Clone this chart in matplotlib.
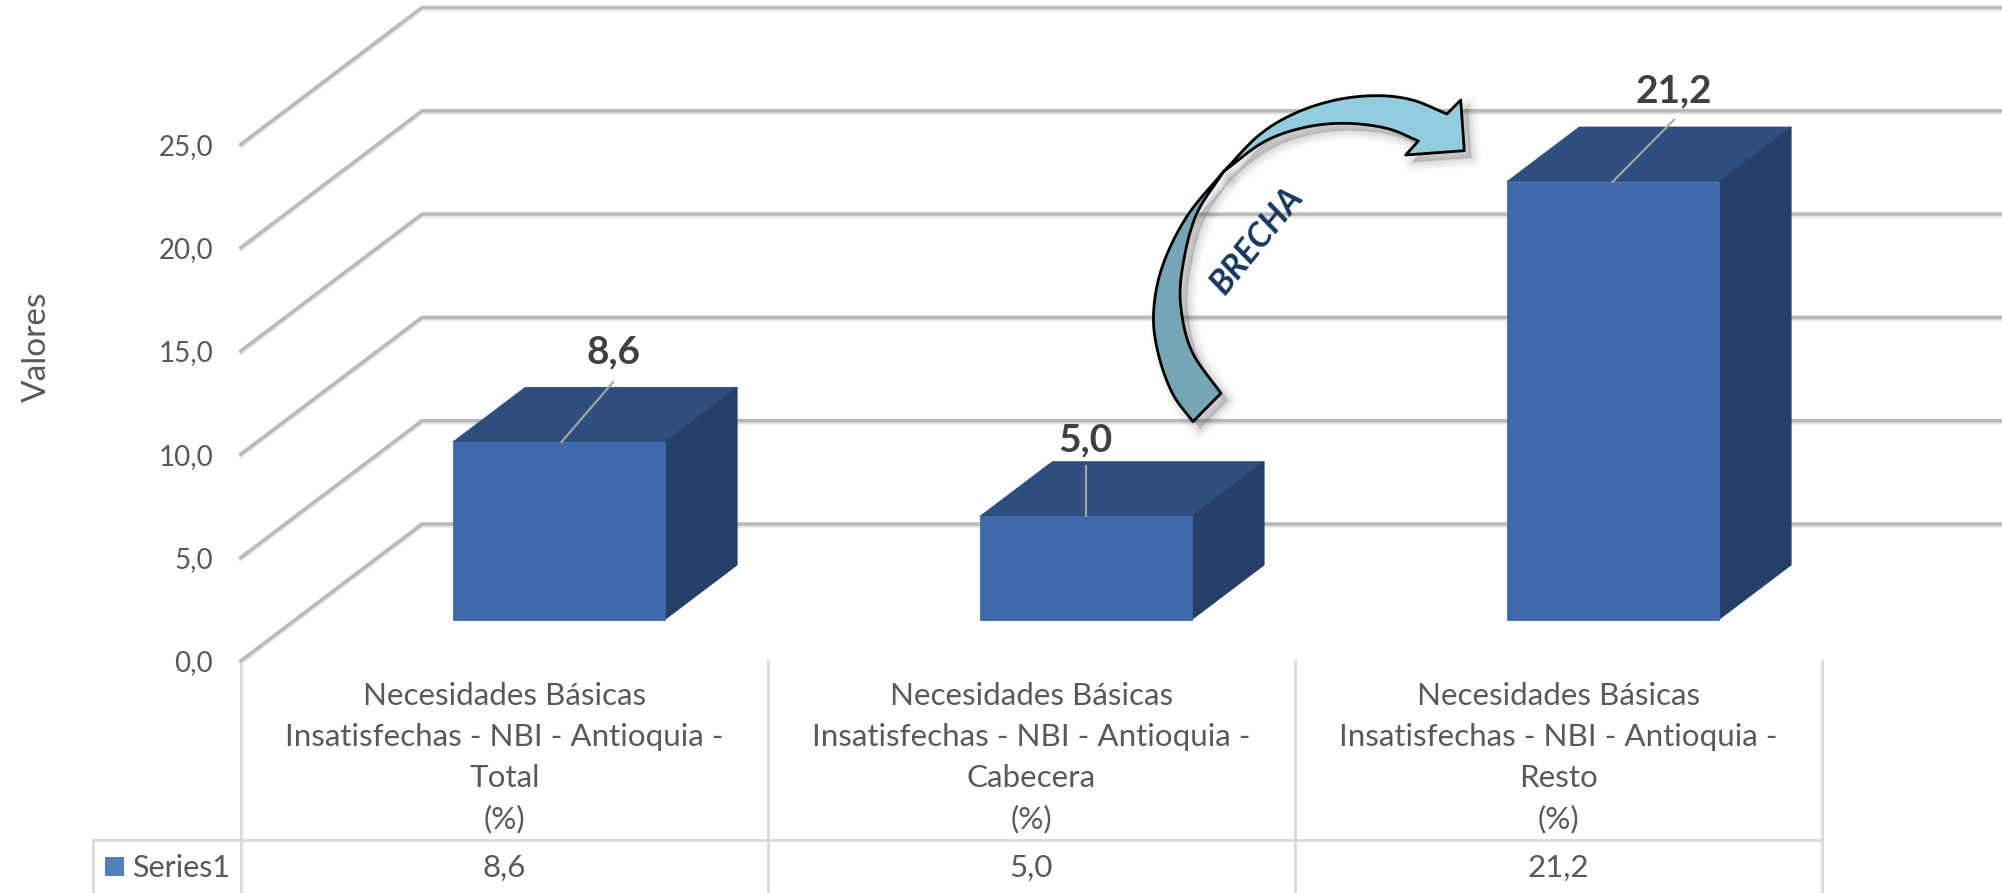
import numpy as np
import matplotlib
matplotlib.use("Agg")
import matplotlib.pyplot as plt
from matplotlib.patches import Polygon, Rectangle
from matplotlib.transforms import Affine2D

categories = ["Necesidades Básicas\nInsatisfechas - NBI - Antioquia -\nTotal\n(%)",
              "Necesidades Básicas\nInsatisfechas - NBI - Antioquia -\nCabecera\n(%)",
              "Necesidades Básicas\nInsatisfechas - NBI - Antioquia -\nResto\n(%)"]
values = [8.6, 5.0, 21.2]
value_labels = ["8,6", "5,0", "21,2"]
y_ticks = [0, 5, 10, 15, 20, 25]
y_tick_labels = ["0,0", "5,0", "10,0", "15,0", "20,0", "25,0"]
series_name = "Series1"

W, H = 2002, 893
FONT = "Lato"
TXT = "#595959"
fig = plt.figure(figsize=(W / 100, H / 100), dpi=100, facecolor="white")
PX_UNIT = 20.66
Y0 = 660.7
ax = fig.add_axes([241 / W, 1 - Y0 / H, (W - 241) / W, Y0 / H])
ax.set_xlim(-0.5, (W - 504.5) / 527)
ax.set_ylim(0, Y0 / PX_UNIT)
ax.patch.set_visible(False)
for s in ax.spines.values():
    s.set_visible(False)
px = Affine2D().scale(1, -1).translate(0, H)   # reference pixels, y downwards

# 3-D style shear: depth 0 is the front of the floor, depth 1 the back wall
DX, DY = 181 / 527, 136.7 / PX_UNIT
D0, D1 = 0.30, 0.70
BAR_W = 0.402
def proj(x, v, d):
    return (x + d * DX, v + d * DY)

# ticks
ax.set_yticks(y_ticks)
ax.set_yticklabels(y_tick_labels, fontname=FONT, fontsize=20, color=TXT)
ax.set_xticks(range(3))
ax.set_xticklabels(categories, fontname=FONT, fontsize=22.6, color=TXT, linespacing=1.57)
ax.tick_params(axis="y", length=0, pad=20)
ax.tick_params(axis="x", length=0, pad=15)
ax.set_ylabel("Valores", fontname=FONT, fontsize=24, color=TXT)
ax.yaxis.set_label_coords((52 - 241) / (W - 241), (Y0 - 347) / Y0)

# gridlines: floor diagonal then along the back wall
x_left = -0.5
x_right = ax.get_xlim()[1]
for t in y_ticks:
    a = proj(x_left, t, 0)
    b = proj(x_left, t, 1)
    c = (x_right, b[1])
    ax.plot([a[0], b[0], c[0]], [a[1] - 0.1, b[1] - 0.1, c[1] - 0.1], color="#E6E6E6", lw=2.6, zorder=1,
            solid_joinstyle="miter", clip_on=False)
    ax.plot([a[0], b[0], c[0]], [a[1], b[1], c[1]], color="#BABABA", lw=2.6, zorder=1.1,
            solid_joinstyle="miter", clip_on=False)

# bars
FRONT, TOP, SIDE = "#3E6AAC", "#2E4E7E", "#253F68"
LEAD_X0 = [0.005, 0.0, 0.0]
LEAD_DX = [0.098, 0.0, 0.116]
LEAD_DY = [2.9, 2.42, 3.0]
TEXT_DY = [1.45, 1.26, 1.4]
for i, v in enumerate(values):
    l, r = i - BAR_W / 2, i + BAR_W / 2
    front = [proj(l, 0, D0), proj(r, 0, D0), proj(r, v, D0), proj(l, v, D0)]
    top = [proj(l, v, D0), proj(r, v, D0), proj(r, v, D1), proj(l, v, D1)]
    side = [proj(r, 0, D0), proj(r, 0, D1), proj(r, v, D1), proj(r, v, D0)]
    for pts, col in ((top, TOP), (side, SIDE), (front, FRONT)):
        ax.add_patch(Polygon(pts, closed=True, facecolor=col, edgecolor=col, lw=0.6, zorder=3))
    cx, cy = proj(i, v, D0)
    cx += LEAD_X0[i]
    ex, ey = cx + LEAD_DX[i], cy + LEAD_DY[i]
    ax.plot([cx, ex], [cy, ey], color="#A6A6A6", lw=1.5, zorder=4)
    ax.text(ex, ey + TEXT_DY[i], value_labels[i], ha="center", va="center", fontname=FONT,
            fontsize=28, fontweight="bold", color="#404040", zorder=5)

# data table
GRID = "#D9D9D9"
y_line = (Y0 - 840) / PX_UNIT
y_bot = (Y0 - H) / PX_UNIT
x_tab = (93 - 504.5) / 527
for xv in (-0.5, 0.5, 1.5, 2.5):
    ax.plot([xv, xv], [0, y_bot], color=GRID, lw=2, clip_on=False, zorder=1)
ax.plot([x_tab, x_tab], [y_line, y_bot], color=GRID, lw=2, clip_on=False, zorder=1)
ax.plot([x_tab, 2.5], [y_line, y_line], color=GRID, lw=2, clip_on=False, zorder=1)
y_row = (Y0 - 868) / PX_UNIT
for i, s in enumerate(value_labels):
    ax.text(i, y_row, s, ha="center", va="center", fontname=FONT, fontsize=22.6, color=TXT, clip_on=False)
ax.text((132 - 504.5) / 527, y_row, series_name, ha="left", va="center", fontname=FONT, fontsize=22,
        color=TXT, clip_on=False)
ax.add_patch(Rectangle(((105 - 504.5) / 527, (Y0 - 876) / PX_UNIT), 19 / 527, 19 / PX_UNIT,
                       facecolor="#4F81BD", edgecolor="none", clip_on=False))

# curved arrow (annotation shape), in reference pixels
def spline(pts, n=14):
    p = np.array(pts, float)
    p = np.vstack([2 * p[0] - p[1], p, 2 * p[-1] - p[-2]])
    out = []
    for k in range(1, len(p) - 2):
        for t in np.linspace(0, 1, n, endpoint=False):
            out.append(0.5 * ((2 * p[k]) + (p[k + 1] - p[k - 1]) * t +
                              (2 * p[k - 1] - 5 * p[k] + 4 * p[k + 1] - p[k + 2]) * t ** 2 +
                              (3 * p[k] - p[k - 1] - 3 * p[k + 1] + p[k + 2]) * t ** 3))
    out.append(p[-2])
    return np.array(out)

def z(x, y):
    return (1050 + x / 1.96, 60 + y / 3)

cross = z(340, 335)
inner_low = spline([z(335, 1000), z(280, 880), z(258, 760), z(258, 640), z(285, 470), cross])
outer_low = spline([cross, z(268, 470), z(220, 620), z(203, 760), z(212, 880), z(240, 1000), z(280, 1085)])
inner_up = spline([cross, z(420, 245), z(500, 202), z(580, 190), z(660, 205), z(722, 243)])
outer_up = spline([z(778, 162), z(710, 120), z(640, 107), z(560, 120), z(480, 160), z(410, 225), cross])
head = [z(722, 243), z(697, 285), z(812, 272), z(805, 120), z(778, 162)]
low = np.vstack([inner_low, outer_low])
up = np.vstack([inner_up, head, outer_up])

for poly in (low, up):
    for lw, a in ((14, 0.04), (10, 0.05), (6, 0.07), (2, 0.1)):
        ax.add_patch(Polygon(poly + 7, closed=True, transform=px, facecolor="#555555", edgecolor="#555555",
                             lw=lw, alpha=a, zorder=6, clip_on=False, joinstyle="round"))
ax.add_patch(Polygon(low, closed=True, transform=px, facecolor="#76A6B5", edgecolor="black", lw=2, zorder=7,
                     joinstyle="round", clip_on=False))
ax.add_patch(Polygon(up, closed=True, transform=px, facecolor="#93CDDD", edgecolor="black", lw=2, zorder=7,
                     joinstyle="round", clip_on=False))
ax.text(1257, H - 240, "BRECHA", transform=Affine2D(), rotation=51, rotation_mode="anchor", ha="center", va="center",
        fontname=FONT, fontsize=24.5, fontweight="bold", fontstyle="italic", color="#17375E", zorder=8, clip_on=False)

fig.savefig("out.png", dpi=100, facecolor="white")
